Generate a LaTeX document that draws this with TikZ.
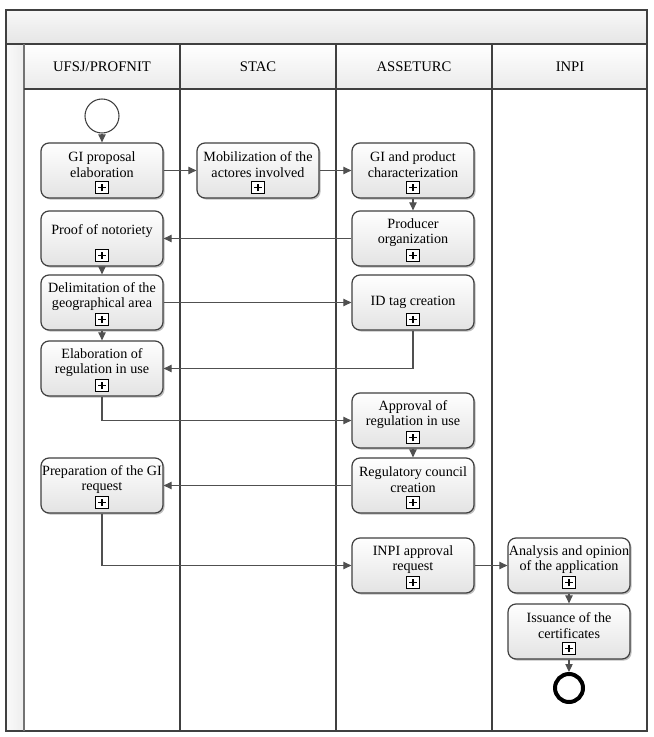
\documentclass[tikz,border=0pt]{standalone}
\usepackage{fontspec}
\setmainfont{Liberation Serif}
\usetikzlibrary{shadows,arrows.meta,calc}

\definecolor{framec}{HTML}{404040}
\definecolor{arrc}{HTML}{505050}

\tikzset{
 box/.style={draw=framec, line width=0.9pt, rounded corners=6pt,
   minimum width=91.5pt, minimum height=41.25pt, inner sep=0pt,
   top color=white, bottom color=black!11,
   drop shadow={shadow xshift=1.2pt, shadow yshift=-1.2pt, opacity=0.25, fill=black}},
 lbl/.style={font=\fontsize{10.6}{11.6}\selectfont, align=center, inner sep=0pt},
 hdr/.style={font=\fontsize{11}{12}\selectfont, inner sep=0pt},
 mk/.style={draw=black, line width=0.9pt, fill=white, minimum size=9.2pt, inner sep=0pt},
 flow/.style={draw=arrc, line width=0.8pt, -{Triangle[length=6pt,width=5.5pt]}},
 lane/.style={draw=framec, line width=0.8pt},
}

\newcommand\mytask[5]{%
 \node[box] (#1) at (#2,#3) {};
 \node[lbl] (#1-t) at ($(#1.center)+(0,#5)$) {#4};
 \node[mk] (#1-m) at ($(#1.south)+(0,-11)$) {};
 \draw[line width=1.3pt] ($(#1-m.center)+(-2.8pt,0)$) -- ($(#1-m.center)+(2.8pt,0)$);
 \draw[line width=1.3pt] ($(#1-m.center)+(0,-2.8pt)$) -- ($(#1-m.center)+(0,2.8pt)$);
}

\begin{document}
\begin{tikzpicture}[x=0.75pt,y=-0.75pt]
\useasboundingbox (0,0) rectangle (653,737);
\fill[white] (0,0) rectangle (653,737);

% pool frame
\shade[top color=black!3, bottom color=black!10] (6,10) rectangle (647,44);
\shade[left color=black!2, right color=black!7] (6,44) rectangle (24,731);
\foreach \xa/\xb in {24/180,180/336,336/492,492/647}{
  \shade[top color=white, bottom color=black!8] (\xa,44) rectangle (\xb,89);
}
\draw[lane] (6,10) rectangle (647,731);
\draw[lane] (6,44) -- (647,44);
\draw[lane,draw=black!55,line width=1.2pt] (24,44) -- (24,731);
\draw[lane] (24,89) -- (647,89);
\foreach \xx in {180,336,492}{ \draw[lane] (\xx,44) -- (\xx,731); }

\node[hdr] (h1) at (102,66.5) {UFSJ/PROFNIT};
\node[hdr] (h2) at (258,66.5) {STAC};
\node[hdr] (h3) at (414,66.5) {ASSETURC};
\node[hdr] (h4) at (570,66.5) {INPI};

% events
\node[draw=framec, line width=0.8pt, circle, minimum size=25.5pt, inner sep=0pt, fill=white] (start) at (102,116) {};
\node[draw=black, line width=3pt, circle, minimum size=21pt, inner sep=0pt, fill=white] (end) at (569,688) {};

% tasks
\mytask{gi}{102}{170.5}{GI proposal\\elaboration}{-6}
\mytask{mob}{258}{170.5}{Mobilization of the\\actores involved}{-6}
\mytask{gic}{413}{170.5}{GI and product\\characterization}{-6}
\mytask{prod}{413}{238.5}{Producer\\organization}{-6}
\mytask{proof}{102}{238.5}{Proof of notoriety}{-7.5}
\mytask{delim}{102}{302.5}{Delimitation of the\\geographical area}{-6}
\mytask{idt}{413}{302.5}{ID tag creation}{0}
\mytask{elab}{102}{368.5}{Elaboration of\\regulation in use}{-6}
\mytask{appr}{413}{420.5}{Approval of\\regulation in use}{-6}
\mytask{reg}{413}{485.5}{Regulatory council\\creation}{-6}
\mytask{prep}{102}{485.5}{Preparation of the GI\\request}{-6}
\mytask{req}{413}{565.5}{INPI approval\\request}{-6}
\mytask{ana}{569}{565.5}{Analysis and opinion\\of the application}{-6}
\mytask{iss}{569}{631.5}{Issuance of the\\certificates}{-6}

% flows
\draw[flow] (start) -- (gi);
\draw[flow] (gi) -- (mob);
\draw[flow] (mob) -- (gic);
\draw[flow] (gic) -- (prod);
\draw[flow] (prod) -- (proof);
\draw[flow] (proof) -- (delim);
\draw[flow] (delim) -- (idt);
\draw[flow] (delim) -- (elab);
\draw[flow] (idt.south) |- (elab.east);
\draw[flow] (elab.south) |- (appr.west);
\draw[flow] (appr) -- (reg);
\draw[flow] (reg) -- (prep);
\draw[flow] (prep.south) |- (req.west);
\draw[flow] (req) -- (ana);
\draw[flow] (ana) -- (iss);
\draw[flow] (iss) -- (end);
\end{tikzpicture}
\end{document}
